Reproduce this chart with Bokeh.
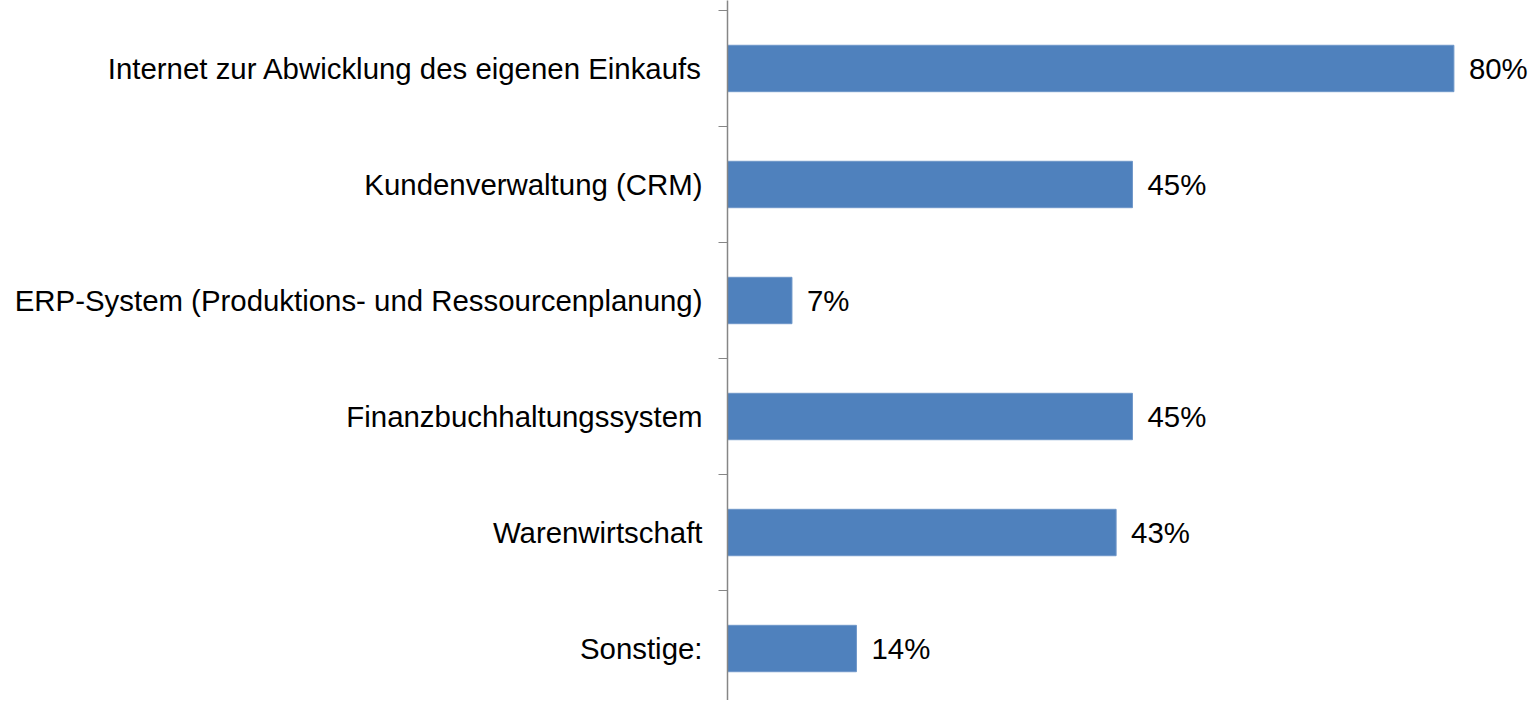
from bokeh.plotting import figure
from bokeh.models import ColumnDataSource, FixedTicker, Range1d
from bokeh.core.properties import value
from bokeh.embed import file_html
from bokeh.resources import INLINE

categories = [
    "Internet zur Abwicklung des eigenen Einkaufs",
    "Kundenverwaltung (CRM)",
    "ERP-System (Produktions- und Ressourcenplanung)",
    "Finanzbuchhaltungssystem",
    "Warenwirtschaft",
    "Sonstige:",
]
values = [80.0, 44.6, 7.1, 44.6, 42.8, 14.2]
labels = [f"{round(v)}%" for v in values]

n = len(categories)
positions = [n - i for i in range(n)]

src = ColumnDataSource(dict(y=positions, v=values, lab=labels))

W, H, LEFT = 1535, 700, 727
p = figure(width=W, height=H, output_backend="svg", toolbar_location=None,
           x_range=Range1d(0, (W - LEFT) / 9.08), y_range=Range1d(0.552, 6.586),
           x_axis_location=None, min_border_left=LEFT, min_border_right=0,
           min_border_top=0, min_border_bottom=0)
p.outline_line_color = None
p.xgrid.visible = False
p.ygrid.visible = False

p.hbar(y="y", left=0, right="v", height=0.4, source=src,
       fill_color="#4F81BD", line_color="#6f97c9", line_width=1)

p.text(x="v", y="y", text="lab", source=src, x_offset=15,
       text_baseline="middle", text_align="left",
       text_font=value("Liberation Sans"), text_font_size="29.4px",
       text_color="#000000")

ax = p.yaxis[0]
ax.ticker = FixedTicker(ticks=positions, minor_ticks=[k + 0.5 for k in range(0, n + 1)])
ax.major_label_overrides = {pos: cat for pos, cat in zip(positions, categories)}
ax.major_tick_out = 0
ax.major_tick_in = 0
ax.minor_tick_out = 9
ax.minor_tick_in = 0
ax.minor_tick_line_color = "#868686"
ax.axis_line_color = "#868686"
ax.axis_line_width = 1.5
ax.major_label_standoff = 16
ax.major_label_text_font = "Liberation Sans"
ax.major_label_text_font_size = "29.4px"
ax.major_label_text_color = "#000000"

open("out.html", "w").write(file_html(p, INLINE))
